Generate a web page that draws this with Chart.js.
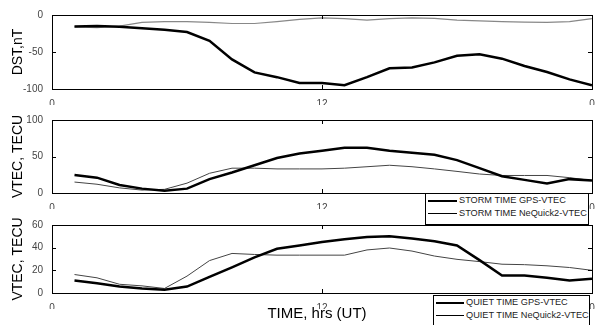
<!DOCTYPE html>
<html>
<head>
<meta charset="utf-8">
<script src="https://cdn.jsdelivr.net/npm/chart.js@4/dist/chart.umd.min.js"></script>
<style>
  body { margin: 0; background: #fff; }
  #wrap { position: relative; width: 600px; height: 325px; overflow: hidden; font-family: Arial, "Liberation Sans", sans-serif; }
  canvas { position: absolute; left: 0; }
  .legend { position: absolute; background: #fff; border: 1px solid #000; font-size: 9.2px; color: #222; z-index: 5; }
  .legend div { position: absolute; left: 2px; white-space: nowrap; }
  .legend span { display: inline-block; vertical-align: middle; margin-right: 2px; }
  #xtitle { position: absolute; left: 0; width: 634px; top: 304px; text-align: center; font-size: 15px; color: #000; z-index: 4; }
</style>
</head>
<body>
<div id="wrap">
  <canvas id="dstChart"></canvas>
  <canvas id="stormChart"></canvas>
  <canvas id="quietChart"></canvas>
  <div id="xtitle">TIME, hrs (UT)</div>
  <div class="legend" id="stormLegend" style="left:425px;top:193px;width:162px;height:30px"></div>
  <div class="legend" id="quietLegend" style="left:433px;top:295px;width:155px;height:34px"></div>
</div>
<script>
// hourly values, 1..24 UT
const hours = [1,2,3,4,5,6,7,8,9,10,11,12,13,14,15,16,17,18,19,20,21,22,23,24];
const dstStorm = [-15.7,-14.8,-16,-18,-20,-23,-35,-60,-77.6,-84,-92,-92,-95,-84,-72,-71,-64,-55,-53,-59,-69,-77,-87,-95];
const dstQuiet = [-16,-17,-15,-10,-9,-9,-10,-11.5,-11.5,-9,-6,-4,-5,-7,-5,-4,-4.5,-7,-8,-9,-9.5,-10,-9,-5];
const vtecStormGps = [24.7,21,11,6,3,6,19,28,38,48,54,58,62,62,58,55,52.5,45,34,23,18,13,19,17];
const vtecStormNeq = [15,12,7,4,5,13.5,27,34,34,33,33,33,34,36,38,36,33,29.6,26,24,24,24,21,17];
const vtecQuietGps = [11,8.6,5.7,4,2.9,5.7,14.3,22.6,31.4,39,42,45,47.4,49.4,50,48,45.7,42,29,15.4,15.4,13.5,11,12.6];
const vtecQuietNeq = [16.3,13.4,7.7,6.3,4,14.9,28.6,34.9,34,33.4,33.4,33.4,33.4,38,39.7,37,32.6,29.7,27.7,25.4,25,24,22.5,20];
const xTicks = [0, 12, 24];
const xTickLabels = ['0', '12', '0'];

const PAD_TOP = 22, X_H = 16, LEFT = 52, PAD_LEFT = 10, RIGHT_PAD = 8;

function pts(ys) {
  return hours.map((h, i) => ({ x: h, y: ys[i] }));
}

// MATLAB-style box with inward ticks on all four sides
const boxPlugin = {
  id: 'box',
  afterDraw(chart) {
    const { ctx, chartArea: a, scales } = chart;
    ctx.save();
    ctx.strokeStyle = '#000';
    ctx.lineWidth = 1;
    ctx.strokeRect(a.left + 0.5, a.top + 0.5, a.right - a.left, a.bottom - a.top);
    const len = 4;
    ctx.beginPath();
    scales.x.ticks.forEach(t => {
      const px = Math.round(scales.x.getPixelForValue(t.value)) + 0.5;
      ctx.moveTo(px, a.bottom); ctx.lineTo(px, a.bottom - len);
      ctx.moveTo(px, a.top); ctx.lineTo(px, a.top + len);
    });
    scales.y.ticks.forEach(t => {
      const py = Math.round(scales.y.getPixelForValue(t.value)) + 0.5;
      ctx.moveTo(a.left, py); ctx.lineTo(a.left + len, py);
      ctx.moveTo(a.right, py); ctx.lineTo(a.right - len, py);
    });
    ctx.stroke();
    ctx.restore();
  }
};

function makePanel(id, top, bottom, yMin, yMax, yStep, title, sets) {
  const cv = document.getElementById(id);
  const h = (bottom - top) + PAD_TOP + X_H;
  cv.style.top = (top - PAD_TOP) + 'px';
  cv.style.width = '600px';
  cv.style.height = h + 'px';
  cv.width = 600; cv.height = h;
  return new Chart(cv, {
    type: 'line',
    data: {
      datasets: sets.map(s => ({
        label: s.label,
        data: pts(s.data),
        borderColor: s.color,
        borderWidth: s.width,
        pointRadius: 0,
        tension: 0,
        fill: false
      }))
    },
    options: {
      responsive: false,
      animation: false,
      layout: { padding: { top: PAD_TOP, left: PAD_LEFT, right: RIGHT_PAD, bottom: 0 } },
      plugins: { legend: { display: false }, tooltip: { enabled: false } },
      scales: {
        x: {
          type: 'linear', min: 0, max: 24,
          afterBuildTicks: s => { s.ticks = xTicks.map(v => ({ value: v })); },
          afterFit: s => { s.height = X_H; },
          grid: { display: false },
          border: { display: false },
          ticks: {
            padding: 1, color: '#444', font: { family: 'Arial', size: 10 },
            callback: v => xTickLabels[xTicks.indexOf(v)]
          }
        },
        y: {
          min: yMin, max: yMax,
          afterFit: s => { s.width = LEFT - PAD_LEFT; },
          grid: { display: false },
          border: { display: false },
          ticks: { stepSize: yStep, padding: 1, color: '#444', font: { family: 'Arial', size: 10 } },
          title: { display: true, text: title, color: '#000', padding: { top: 0, bottom: 0 }, font: { family: 'Arial', size: 14 } }
        }
      }
    },
    plugins: [boxPlugin]
  });
}

makePanel('dstChart', 15, 89, -100, 0, 50, 'DST,nT', [
  { label: 'STORM TIME DST', data: dstStorm, color: '#000', width: 2.5 },
  { label: 'QUIET TIME DST', data: dstQuiet, color: '#888', width: 1.2 }
]);
const storm = makePanel('stormChart', 120, 193, 0, 100, 50, 'VTEC, TECU', [
  { label: 'STORM TIME GPS-VTEC', data: vtecStormGps, color: '#000', width: 2.5 },
  { label: 'STORM TIME NeQuick2-VTEC', data: vtecStormNeq, color: '#444', width: 1 }
]);
const quiet = makePanel('quietChart', 225, 293, 0, 60, 20, 'VTEC, TECU', [
  { label: 'QUIET TIME GPS-VTEC', data: vtecQuietGps, color: '#000', width: 2.5 },
  { label: 'QUIET TIME NeQuick2-VTEC', data: vtecQuietNeq, color: '#444', width: 1 }
]);

function buildLegend(elId, chart, sampleW) {
  const el = document.getElementById(elId);
  chart.data.datasets.forEach((ds, i) => {
    const row = document.createElement('div');
    row.style.top = (1 + i * 13) + 'px';
    const line = document.createElement('span');
    line.style.width = sampleW + 'px';
    line.style.borderTop = (ds.borderWidth > 2 ? 2 : 1) + 'px solid #000';
    row.appendChild(line);
    row.appendChild(document.createTextNode(ds.label));
    el.appendChild(row);
  });
}
buildLegend('stormLegend', storm, 29);
buildLegend('quietLegend', quiet, 28);
</script>
</body>
</html>
